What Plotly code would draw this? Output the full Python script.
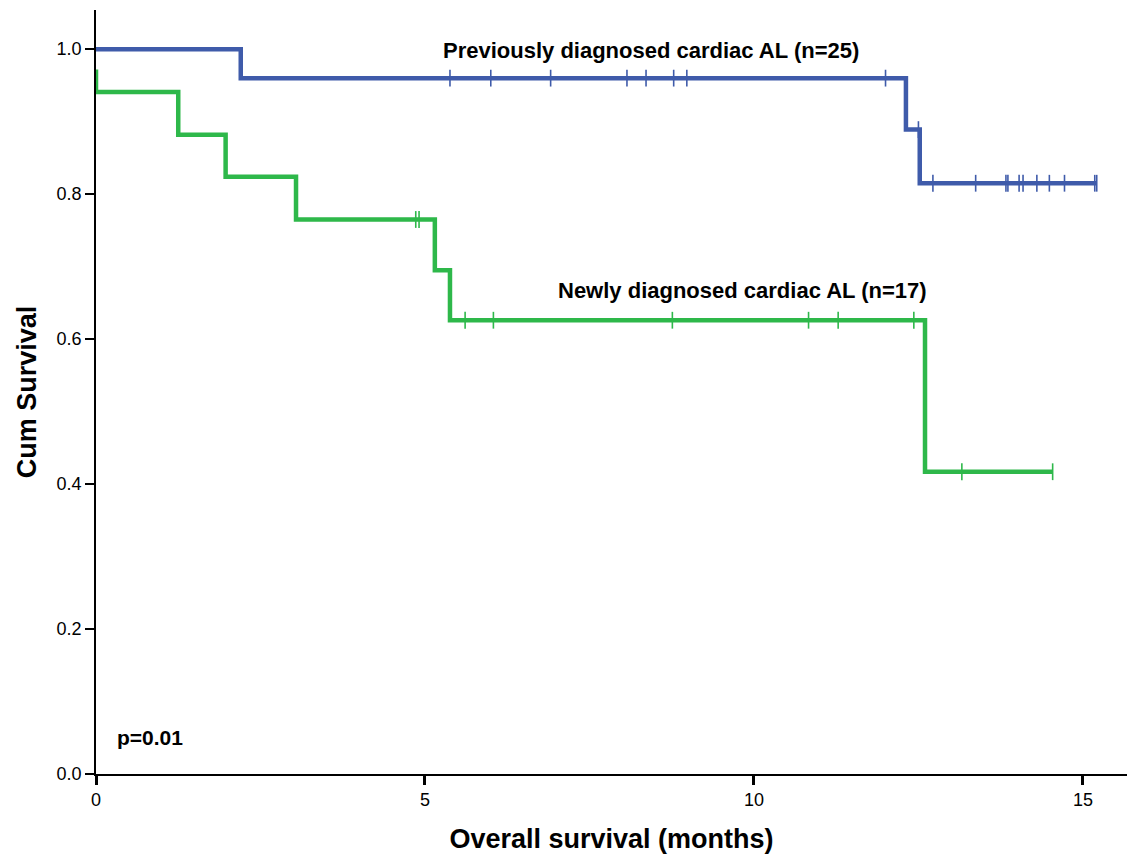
import plotly.graph_objects as go

# Kaplan-Meier step data (months, cumulative survival)
prev_step_times = [0.0, 2.20, 12.31, 12.52]
prev_step_surv = [1.0, 0.96, 0.889, 0.815]
prev_end_time = 15.21
prev_censor_times = [5.38, 6.00, 6.91, 8.07, 8.36, 8.78, 8.98, 12.00, 12.50,
                     12.72, 13.37, 13.83, 13.86, 14.03, 14.09, 14.30, 14.49,
                     14.72, 15.18, 15.21]

new_step_times = [0.0, 0.0, 1.25, 1.97, 3.04, 5.15, 5.38, 12.60]
new_step_surv = [0.972, 0.941, 0.882, 0.824, 0.765, 0.695, 0.626, 0.417]
new_end_time = 14.54
new_censor_times = [4.86, 4.91, 5.61, 6.04, 8.76, 10.83, 11.28, 12.43, 13.16, 14.54]

x_ticks = [0, 5, 10, 15]
y_ticks = [0.0, 0.2, 0.4, 0.6, 0.8, 1.0]

BLUE = "#3F5BAA"
GREEN = "#2EB84A"
FONT = "Liberation Sans, Arial, sans-serif"


def surv_at(t, times, surv):
    s = surv[0]
    for ti, si in zip(times, surv):
        if ti <= t:
            s = si
    return s


def km_trace(times, surv, end, color):
    xs = list(times) + [end]
    ys = list(surv) + [surv[-1]]
    return go.Scatter(x=xs, y=ys, mode="lines", line=dict(color=color, width=4.5, shape="hv"),
                      hoverinfo="skip", showlegend=False)


def censor_trace(ctimes, times, surv, color):
    return go.Scatter(x=ctimes, y=[surv_at(t, times, surv) for t in ctimes], mode="markers",
                      marker=dict(symbol="line-ns", size=12, line=dict(color=color, width=1.6)),
                      hoverinfo="skip", showlegend=False)


fig = go.Figure()
fig.add_trace(km_trace(new_step_times, new_step_surv, new_end_time, GREEN))
fig.add_trace(censor_trace(new_censor_times, new_step_times, new_step_surv, GREEN))
fig.add_trace(km_trace(prev_step_times, prev_step_surv, prev_end_time, BLUE))
fig.add_trace(censor_trace(prev_censor_times, prev_step_times, prev_step_surv, BLUE))

fig.add_annotation(x=8.43, y=0.998, text="<b>Previously diagnosed cardiac AL (n=25)</b>",
                   showarrow=False, font=dict(family=FONT, size=22, color="black"))
fig.add_annotation(x=9.83, y=0.667, text="<b>Newly diagnosed cardiac AL (n=17)</b>",
                   showarrow=False, font=dict(family=FONT, size=22, color="black"))
fig.add_annotation(x=0.29, y=0.05, text="<b>p=0.01</b>", xanchor="left",
                   showarrow=False, font=dict(family=FONT, size=21, color="black"))

fig.update_layout(
    width=1127, height=865,
    margin=dict(l=96, r=0, t=10, b=91),
    paper_bgcolor="white", plot_bgcolor="white",
    font=dict(family=FONT, color="black"),
    xaxis=dict(range=[0, 15.67], tickvals=x_ticks, ticktext=[str(v) for v in x_ticks],
               ticks="outside", ticklen=9, tickwidth=2.5, tickcolor="black",
               showline=True, linecolor="black", linewidth=1.5, showgrid=False, zeroline=False,
               tickfont=dict(size=18, family=FONT),
               title=dict(text="<b>Overall survival (months)</b>", font=dict(size=27, family=FONT),
                          standoff=20)),
    yaxis=dict(range=[0, 1.054], tickvals=y_ticks, ticktext=[f"{v:.1f}" for v in y_ticks],
               ticks="outside", ticklen=9, tickwidth=2, tickcolor="black",
               showline=True, linecolor="black", linewidth=1.5, showgrid=False, zeroline=False,
               tickfont=dict(size=18, family=FONT),
               title=dict(text="<b>Cum Survival</b>", font=dict(size=27, family=FONT),
                          standoff=12)),
)

fig.write_html("out.html")
